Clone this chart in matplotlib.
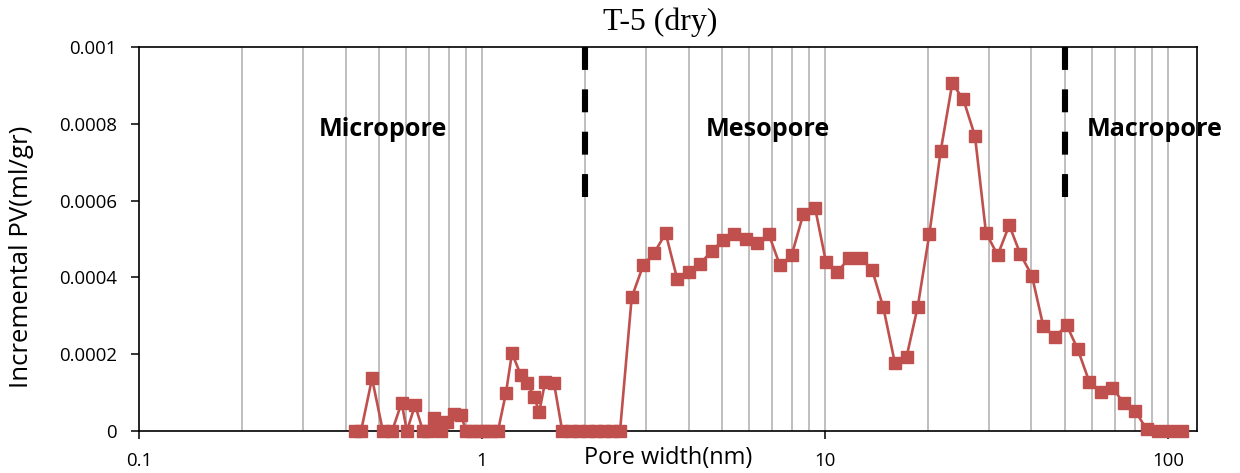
import matplotlib
matplotlib.use("Agg")
import matplotlib.pyplot as plt
from matplotlib.ticker import FixedLocator, NullFormatter

# ---- data (pore width in nm, incremental pore volume in ml/gr) ----
pore_width = [0.426, 0.444, 0.478, 0.514, 0.547, 0.583, 0.604, 0.638, 0.673, 0.696,
              0.725, 0.760, 0.793, 0.829, 0.869, 0.898, 0.935, 0.980, 1.020, 1.062,
              1.113, 1.175, 1.223, 1.297, 1.356, 1.418, 1.469, 1.527, 1.622, 1.714,
              1.817, 1.918, 2.037, 2.149, 2.269, 2.393, 2.526, 2.732, 2.953, 3.179,
              3.432, 3.710, 4.005, 4.321, 4.674, 5.052, 5.440, 5.884, 6.348, 6.852,
              7.393, 7.997, 8.644, 9.351, 10.07, 10.86, 11.75, 12.71, 13.73, 14.79,
              16.00, 17.30, 18.64, 20.15, 21.75, 23.50, 25.31, 27.37, 29.47, 31.88,
              34.45, 37.10, 40.13, 43.30, 46.83, 50.65, 54.55, 58.97, 63.66, 68.81,
              74.40, 80.14, 86.69, 93.70, 101.3, 109.6]
incremental_pv = [0.0, 0.0, 0.000137, 0.0, 0.0, 0.0000737, 0.0, 0.0000677, 0.0, 0.0,
                  0.000033, 0.0, 0.000024, 0.000044, 0.000042, 0.0, 0.0, 0.0, 0.0, 0.0,
                  0.0, 0.000100, 0.000203, 0.000146, 0.000126, 0.000088, 0.000050, 0.000127, 0.000124, 0.0,
                  0.0, 0.0, 0.0, 0.0, 0.0, 0.0, 0.0, 0.000348, 0.000432, 0.000464,
                  0.000515, 0.000395, 0.000414, 0.000435, 0.000469, 0.000497, 0.000513, 0.000499, 0.000489, 0.000513,
                  0.000431, 0.000458, 0.000565, 0.000582, 0.000439, 0.000414, 0.000450, 0.000451, 0.000419, 0.000322,
                  0.000176, 0.000194, 0.000324, 0.000513, 0.000730, 0.000905, 0.000864, 0.000768, 0.000516, 0.000458,
                  0.000536, 0.000461, 0.000404, 0.000273, 0.000244, 0.000276, 0.000213, 0.000128, 0.000101, 0.000113,
                  0.000072, 0.000053, 0.000004, 0.0, 0.0, 0.0]

x_ticks = [0.1, 1, 10, 100]
x_tick_labels = ["0.1", "1", "10", "100"]
y_ticks = [0, 0.0002, 0.0004, 0.0006, 0.0008, 0.001]
y_tick_labels = ["0", "0.0002", "0.0004", "0.0006", "0.0008", "0.001"]
boundaries = [2, 50]
region_names = ["Micropore", "Mesopore", "Macropore"]
region_x = [0.514, 6.82, 91.6]

title = "T-5 (dry)"
x_label = "Pore width(nm)"
y_label = "Incremental PV(ml/gr)"

# ---- figure ----
plt.rcParams["font.family"] = ["Open Sans", "DejaVu Sans"]
plt.rcParams["lines.scale_dashes"] = False

fig = plt.figure(figsize=(12.4, 4.73), dpi=100)
ax = fig.add_axes([139 / 1240, 1 - 431 / 473, (1197 - 139) / 1240, (431 - 47) / 473])

ax.set_xscale("log")
ax.set_xlim(0.1, 121.5)
ax.set_ylim(0, 0.001)

# vertical gridlines at every 1..9 multiple
grid_pos = [m * 10 ** e for e in (-1, 0, 1, 2) for m in range(1, 10)]
grid_pos = [g for g in grid_pos if 0.1 < g < 121.5]
for g in grid_pos:
    ax.axvline(g, color="#BFBFBF", lw=1.4, zorder=0)

# region boundaries
for b in boundaries:
    ax.plot([b, b], [0.001, 0.00061], color="black", lw=4.4,
            dashes=(16.5, 14), solid_capstyle="butt", dash_capstyle="butt", zorder=2)

ax.plot(pore_width, incremental_pv, color="#C0504D", lw=1.9, marker="s",
        markersize=8.5, markerfacecolor="#C0504D", markeredgecolor="#C0504D",
        zorder=3, clip_on=False)

region_sizes = [18.1, 18.1, 18.1]
for name, xr, fs in zip(region_names, region_x, region_sizes):
    ax.text(xr, 0.000786, name, ha="center", va="center", fontsize=fs,
            fontweight="bold", color="black", zorder=4, clip_on=False)

ax.set_title(title, fontsize=22.9, family="Liberation Serif", pad=12,
             x=(660 - 139) / 1058)

ax.xaxis.set_major_locator(FixedLocator(x_ticks))
ax.set_xticklabels(x_tick_labels)
ax.xaxis.set_minor_formatter(NullFormatter())
ax.tick_params(axis="x", which="minor", length=0)
ax.set_yticks(y_ticks)
ax.set_yticklabels(y_tick_labels)
ax.tick_params(axis="both", which="major", direction="out", length=6, width=1.1,
               labelsize=13.4, colors="black")
ax.tick_params(axis="x", pad=8.8)
ax.tick_params(axis="y", pad=10)

for s in ax.spines.values():
    s.set_color("black")
    s.set_linewidth(1.2)

ax.set_xlabel(x_label, fontsize=16.9)
ax.xaxis.set_label_coords(0.5, -0.0703)
ax.xaxis.label.set_va("center")
ax.set_ylabel(y_label, fontsize=18.5)
ax.yaxis.set_label_coords(-0.1106, 0.453)
ax.yaxis.label.set_va("center")

fig.savefig("out.png", dpi=100, facecolor="white")
